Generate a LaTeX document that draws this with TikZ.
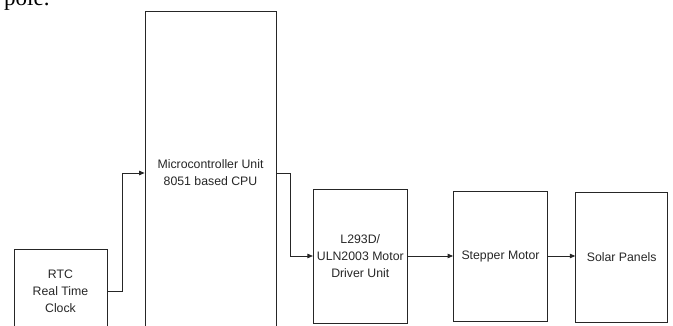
\documentclass[tikz,border=0pt]{standalone}
\usepackage{fontspec}
\setmainfont{Liberation Sans}
\newfontfamily\bodyserif{Liberation Serif}
\usetikzlibrary{positioning, arrows.meta, calc}

\begin{document}
\begin{tikzpicture}[
    x=1pt, y=-1pt,
    >={Triangle[length=5.5pt, width=4.5pt]},
    block/.style={draw=black!85, line width=0.8pt, rectangle, align=center, inner sep=1pt,
        font=\fontsize{12.3}{17}\selectfont, text=black!85},
    link/.style={->, line width=0.8pt, draw=black!85}
]

% frame of the page
\useasboundingbox (0,0) rectangle (673,326);
\clip (0,0) rectangle (673,326);

% cut-off text line above the figure
\node[anchor=base west, inner sep=0pt, font=\bodyserif\fontsize{23}{23}\selectfont] (pole) at (4,6) {pole.};

% blocks
\node[block, minimum width=93pt, minimum height=84pt] (rtc) at (60.5,291) {RTC \\ Real Time \\ Clock};
\node[block, minimum width=131pt, minimum height=324pt] (cpu) at (210.5,173) {Microcontroller Unit \\ 8051 based CPU};
\node[block, minimum width=94pt, minimum height=134pt] (drv) at (360.3,256) {L293D/ \\ ULN2003 Motor \\ Driver Unit};
\node[block, minimum width=94pt, minimum height=130pt] (stepper) at (500.5,256) {Stepper Motor};
\node[block, minimum width=92pt, minimum height=130pt] (solar) at (621.7,257) {Solar Panels};

% connectors
\draw[link] (rtc.east) -- ++(15,0) |- (cpu.west);
\draw[link] (cpu.east) -- ++(14,0) |- (drv.west);
\draw[link] (drv.east) -- (stepper.west);
\draw[link] (stepper.east) -- (stepper.east -| solar.west);

\end{tikzpicture}
\end{document}
